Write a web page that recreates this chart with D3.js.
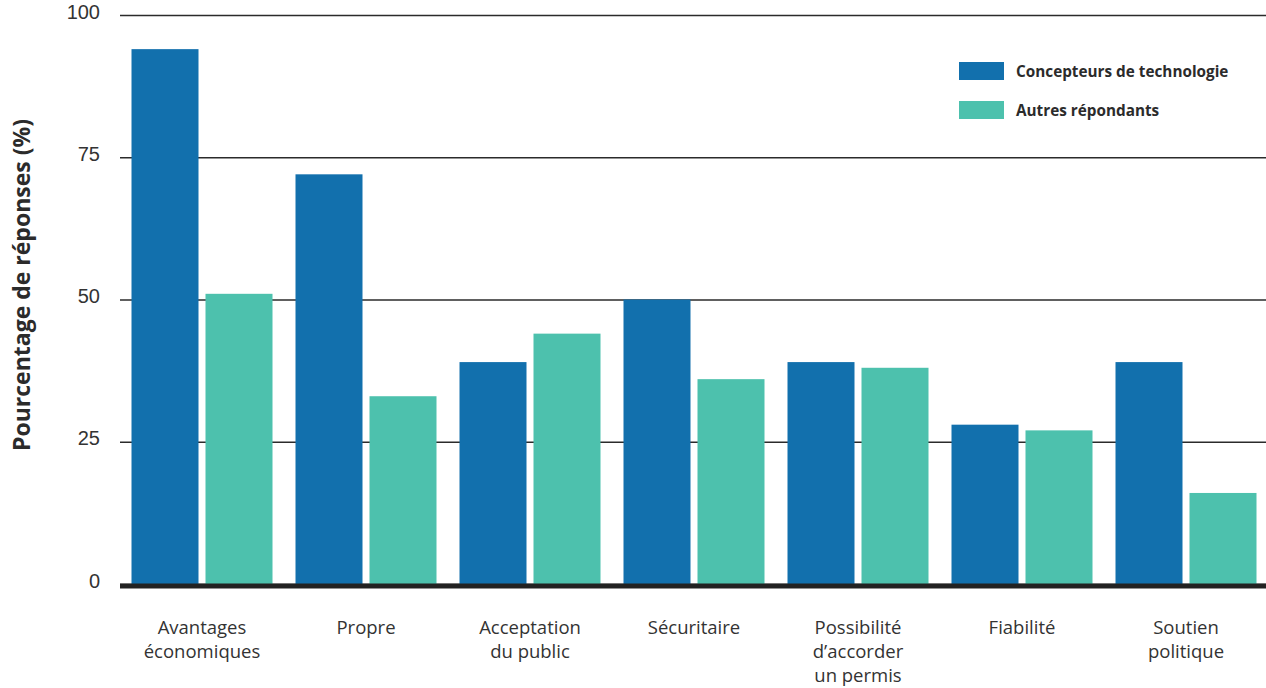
<!DOCTYPE html>
<html>
<head>
<meta charset="utf-8">
<script src="https://cdn.jsdelivr.net/npm/d3@7"></script>
<style>
  body { margin: 0; background: #fff; }
  svg { display: block; font-family: "Open Sans", "Noto Sans", sans-serif; }
</style>
</head>
<body>
<svg id="chart" width="1266" height="688"></svg>
<script>
// Categories (label lines) and series values in percent
const categories = [
  ["Avantages", "économiques"],
  ["Propre"],
  ["Acceptation", "du public"],
  ["Sécuritaire"],
  ["Possibilité", "d’accorder", "un permis"],
  ["Fiabilité"],
  ["Soutien", "politique"]
];
const seriesNames = ["Concepteurs de technologie", "Autres répondants"];
const concepteurs = [94, 72, 39, 50, 39, 28, 39];
const autres = [51, 33, 44, 36, 38, 27, 16];
const yTicks = [0, 25, 50, 75, 100];
const colors = ["#1270ad", "#4dc1ad"];

const svg = d3.select("#chart");
const plotLeft = 120, plotRight = 1268, plotTop = 15, plotBottom = 584;

const catKeys = categories.map(c => c.join(" "));
const x0 = d3.scaleBand().domain(catKeys).range([plotLeft, plotRight]).padding(0);
const x1 = d3.scaleBand().domain(seriesNames).range([11.5, 152.5]).paddingInner(0.0946);
const y = d3.scaleLinear().domain([0, 100]).range([plotBottom, plotTop]);

// Horizontal gridlines with value labels
const yAxis = d3.axisLeft(y).tickValues(yTicks).tickSize(-(1266 - plotLeft)).tickPadding(20);
const gy = svg.append("g").attr("transform", `translate(${plotLeft},0)`).call(yAxis);
gy.select(".domain").remove();
gy.selectAll(".tick line").attr("stroke", "#2b2b2b").attr("stroke-width", 1.3);
gy.selectAll(".tick text").attr("fill", "#333").attr("font-size", 20).attr("dy", "0.15em");

// Bars
const rows = catKeys.map((k, i) => ({ key: k, vals: [concepteurs[i], autres[i]] }));
const groups = svg.append("g").selectAll("g").data(rows).join("g")
  .attr("transform", d => `translate(${x0(d.key)},0)`);
groups.selectAll("rect").data(d => d.vals.map((v, j) => ({ s: seriesNames[j], v, j })))
  .join("rect")
  .attr("x", d => x1(d.s))
  .attr("width", x1.bandwidth())
  .attr("y", d => y(d.v))
  .attr("height", d => y(0) - y(d.v))
  .attr("fill", d => colors[d.j]);

// Baseline
svg.append("line")
  .attr("x1", plotLeft).attr("x2", 1266)
  .attr("y1", y(0) + 2).attr("y2", y(0) + 2)
  .attr("stroke", "#222").attr("stroke-width", 5);

// Category labels
const xl = svg.append("g");
categories.forEach((lines, i) => {
  const cx = x0(catKeys[i]) + 11.5 + 141 / 2;
  const t = xl.append("text").attr("text-anchor", "middle")
    .attr("font-size", 18.5).attr("fill", "#333");
  lines.forEach((ln, k) => {
    t.append("tspan").attr("x", cx).attr("y", 634 + k * 24).text(ln);
  });
});

// Y axis title
svg.append("text")
  .attr("transform", `translate(30,285) rotate(-90)`)
  .attr("text-anchor", "middle")
  .attr("font-size", 23).attr("font-weight", "bold").attr("fill", "#2b2b2b")
  .text("Pourcentage de réponses (%)");

// Legend
const legend = svg.append("g");
seriesNames.forEach((name, i) => {
  const ly = 62 + i * 39;
  legend.append("rect").attr("x", 959).attr("y", ly).attr("width", 45).attr("height", 18).attr("fill", colors[i]);
  legend.append("text").attr("x", 1016).attr("y", ly + 15)
    .attr("font-size", 15.3).attr("font-weight", "bold").attr("fill", "#2b2b2b").text(name);
});
</script>
</body>
</html>
